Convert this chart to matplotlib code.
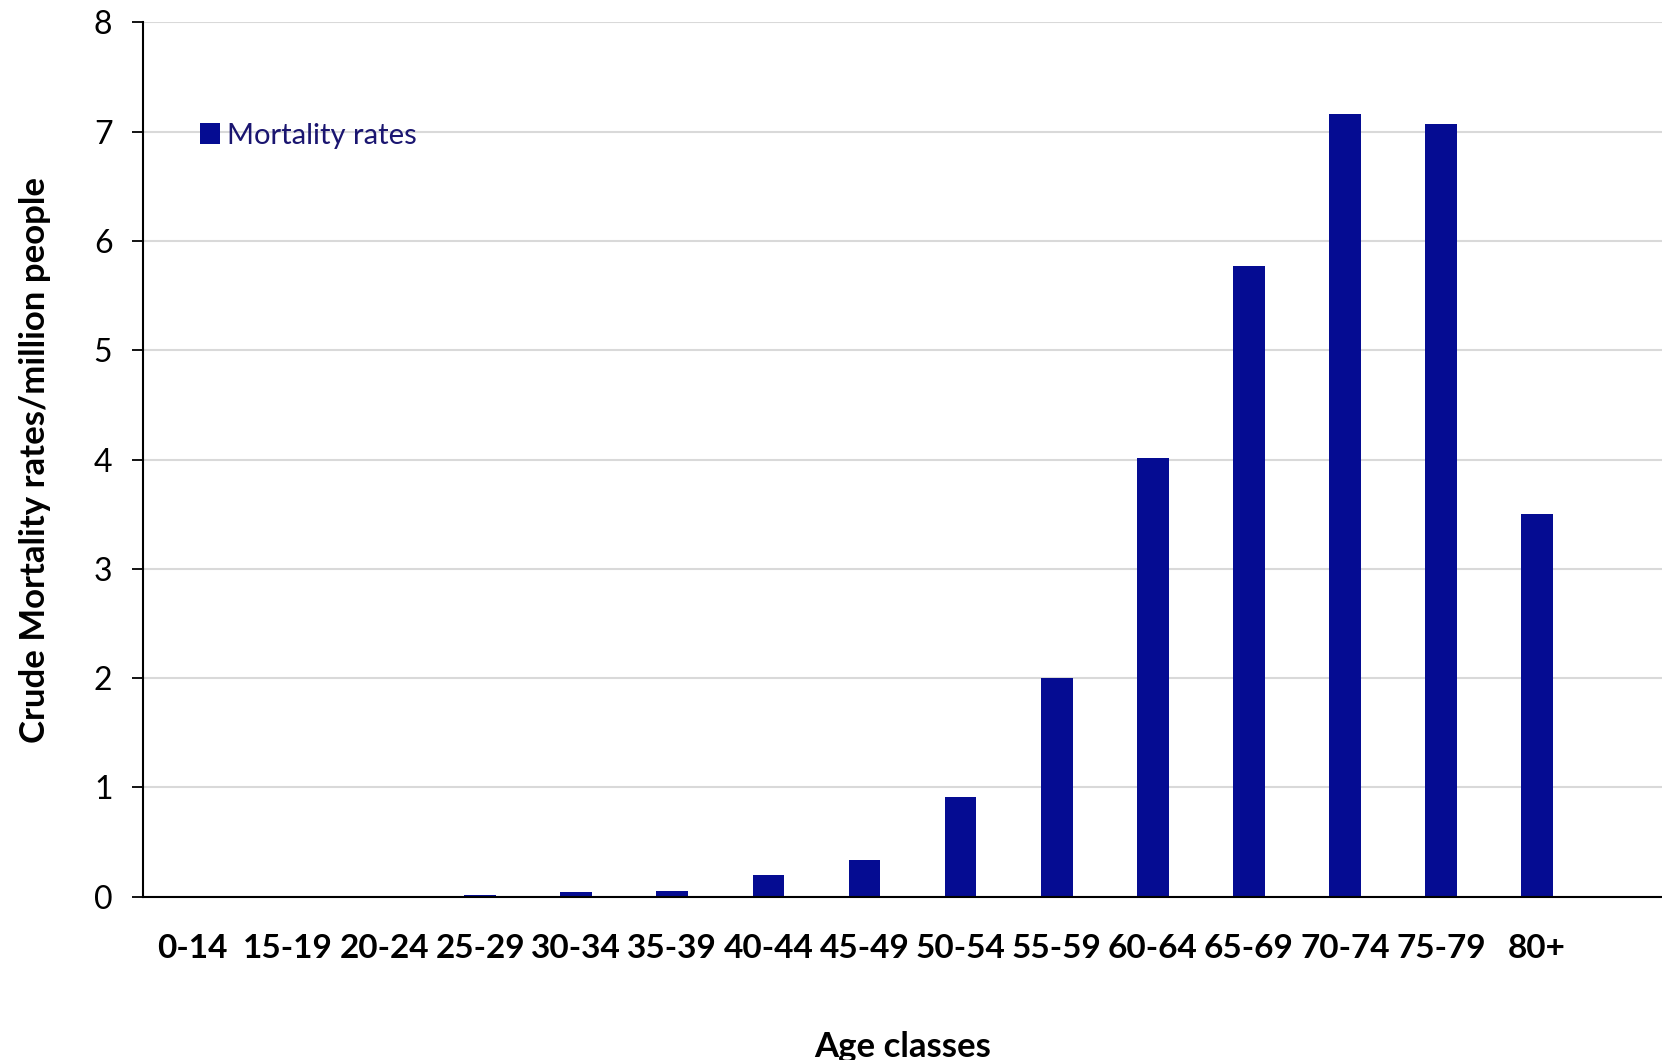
import numpy as np
import matplotlib
matplotlib.use("Agg")
import matplotlib.pyplot as plt

AGE_CLASSES = ["0-14", "15-19", "20-24", "25-29", "30-34", "35-39", "40-44", "45-49",
               "50-54", "55-59", "60-64", "65-69", "70-74", "75-79", "80+"]
MORTALITY = [0.0, 0.0, 0.0, 0.02, 0.04, 0.05, 0.2, 0.34,
             0.91, 2.0, 4.01, 5.77, 7.16, 7.07, 3.5]
Y_TICKS = [0, 1, 2, 3, 4, 5, 6, 7, 8]

BAR_COLOR = "#050c92"
plt.rcParams["font.family"] = ["Lato", "DejaVu Sans"]

fig = plt.figure(figsize=(16.62, 10.6), dpi=100)
ax = fig.add_axes([0.086, 0.154, 0.914, 0.825])

x = np.arange(len(AGE_CLASSES))
ax.bar(x, MORTALITY, width=0.33, color=BAR_COLOR, label="Mortality rates", zorder=3)

ax.set_xlim(-0.51, 15.30)
ax.set_ylim(0, 8)
ax.set_yticks(Y_TICKS)
ax.set_yticklabels([str(t) for t in Y_TICKS], fontsize=23)
ax.set_xticks(x)
ax.set_xticklabels(AGE_CLASSES, fontsize=24, fontweight="bold")
ax.tick_params(axis="x", length=0, pad=27)
ax.tick_params(axis="y", length=8, width=1.3, direction="out", pad=14)

ax.grid(axis="y", color="#d9d9d9", linewidth=1.5, zorder=0)
for side in ("top", "right"):
    ax.spines[side].set_visible(False)
for side in ("left", "bottom"):
    ax.spines[side].set_linewidth(1.5)
    ax.spines[side].set_color("black")
ax.spines["bottom"].set_zorder(4)

ax.set_xlabel("Age classes", fontsize=25, fontweight="bold", labelpad=49)
ax.set_ylabel("Crude Mortality rates/million people", fontsize=25, fontweight="bold", labelpad=31)

leg = ax.legend(loc="upper left", bbox_to_anchor=(0.02, 0.915), frameon=False,
                fontsize=21, handlelength=0.7, handleheight=0.7, handletextpad=0.25)
for t in leg.get_texts():
    t.set_color("#1a1570")

fig.savefig("out.png", dpi=100)
